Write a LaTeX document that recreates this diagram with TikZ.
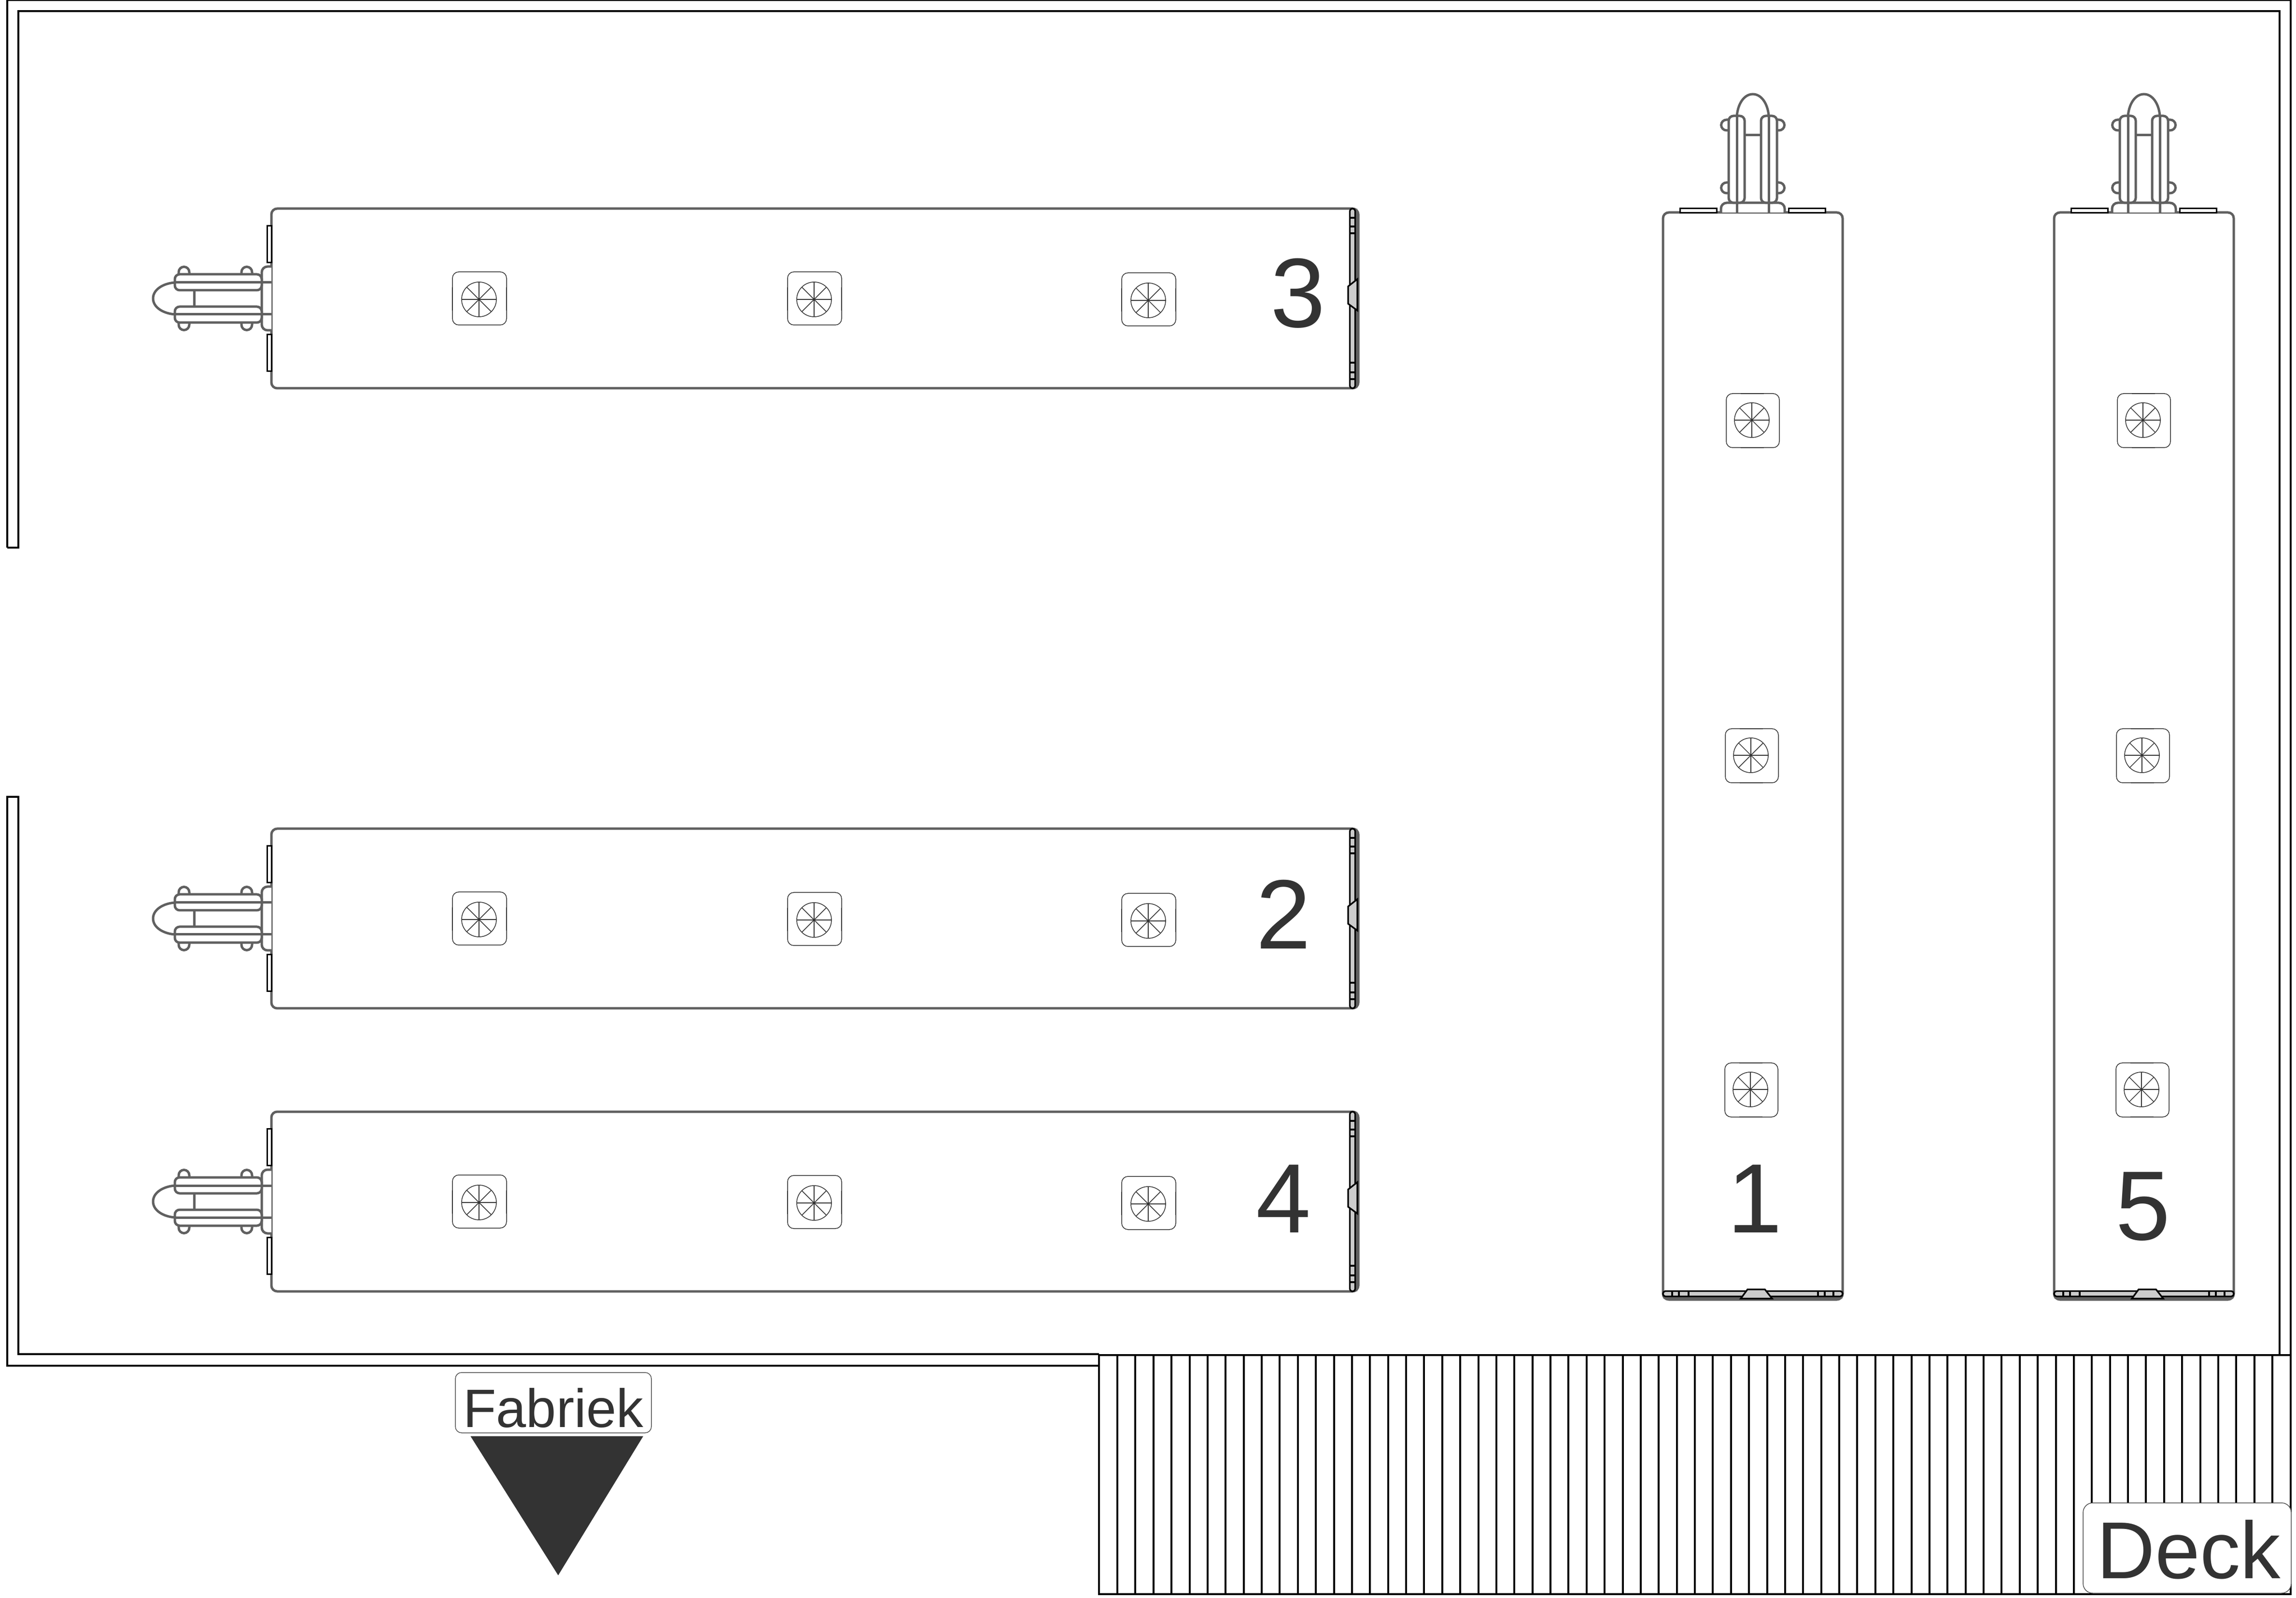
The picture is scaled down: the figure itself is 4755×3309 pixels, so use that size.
\documentclass[tikz,border=0pt]{standalone}
\usepackage{fontspec}
\setmainfont{Liberation Sans}
\definecolor{bodygray}{HTML}{606060}
\definecolor{doorgray}{HTML}{CCCCCC}
\definecolor{inkdark}{HTML}{333333}
\tikzset{
  wallline/.style={black,line width=0.4pt,line join=miter},
  bodyline/.style={draw=bodygray,line width=0.5pt,fill=white,rounded corners=1.2pt},
  hitchline/.style={draw=bodygray,line width=0.5pt},
  blackpart/.style={draw=black,line width=0.33pt,line join=miter},
  wheelline/.style={draw=inkdark,line width=0.15pt},
  bignum/.style={text=inkdark,inner sep=0pt,anchor=base,font=\fontsize{20.4pt}{20.4pt}\selectfont},
  labelbox/.style={draw=inkdark!85,line width=0.15pt,fill=white,rounded corners=1.3pt},
}
\newcommand{\wheelunit}[2]{%
  \begin{scope}[shift={(#1,#2)}]
    \draw[wheelline,fill=white,rounded corners=1.3pt] (-55,-55) rectangle (57,55);
    \draw[wheelline,line width=0.22pt] (-55,-23) -- (-55,25);
    \draw[wheelline,line width=0.22pt] (57,-23) -- (57,25);
    \draw[wheelline] (0,2) circle (36);
    \foreach \a in {0,45,...,315} {\draw[wheelline] (0,2) -- ++(\a:36);}
  \end{scope}}
\newcommand{\trailer}[3]{%
  % body
  \draw[bodyline] (0,-186) rectangle (2251,186);
  \fill[bodygray,rounded corners=1.2pt] (2238,-186) -- (2251,-186) -- (2251,186) -- (2238,186) -- cycle;
  % rear door strip
  \draw[blackpart,fill=doorgray,rounded corners=0.5pt] (2233.5,-186) rectangle (2244.5,186);
  \foreach \v in {-167,-149,-135,133,153,167} {\draw[blackpart] (2233.5,\v) -- (2244.5,\v);}
  \draw[blackpart,fill=doorgray] (2230,-25) -- (2249,-40) -- (2249,25) -- (2230,11) -- cycle;
  % hinged plates
  \draw[blackpart,fill=white] (-8.5,-150.5) rectangle (0.5,-74.5);
  \draw[blackpart,fill=white] (-8.5,74.5) rectangle (0.5,150.5);
  % hitch
  \draw[hitchline,rounded corners=1.2pt,fill=white] (0,-66) -- (-20,-66) -- (-20,66) -- (0,66);
  \foreach \x in {-181,-51} {
    \draw[hitchline,rounded corners=1.1pt,fill=white] (\x-11,-50) -- (\x-11,-65.5) -- (\x+11,-65.5) -- (\x+11,-50);
    \draw[hitchline,rounded corners=1.1pt,fill=white] (\x-11,50) -- (\x-11,65.5) -- (\x+11,65.5) -- (\x+11,50);
  }
  \draw[hitchline,fill=white,rounded corners=1pt] (-200,-50) rectangle (-20,-17);
  \draw[hitchline,fill=white,rounded corners=1pt] (-200,17) rectangle (-20,50);
  \draw[hitchline] (-160,-17) -- (-160,17);
  \draw[hitchline] (-200,-33) -- (0,-33);
  \draw[hitchline] (-200,33) -- (0,33);
  \draw[hitchline] (-200,-33) .. controls (-225,-31) and (-245,-18) .. (-245,0)
                   .. controls (-245,18) and (-225,31) .. (-200,33);
  % wheel units
  \wheelunit{430}{#1}
  \wheelunit{1124}{#2}
  \wheelunit{1816}{#3}
}
\begin{document}
\begin{tikzpicture}[x=0.1pt,y=-0.1pt]
  \useasboundingbox (0,0) rectangle (4755,3309);
  \fill[white] (0,0) rectangle (4755,3309);
  % building walls
  \draw[wallline] (15,1134) -- (15,0.5) -- (4744,0.5) -- (4744,2806);
  \draw[wallline] (15,1134) -- (38,1134) -- (38,23) -- (4721,23) -- (4721,2805);
  \draw[wallline] (2276,2804) -- (38,2804) -- (38,1650) -- (15,1650) -- (15,2828) -- (2276,2828);
  % deck
  \draw[wallline] (2276,2806) rectangle (4744,3301);
  \foreach \k in {0,...,64} {\draw[wallline] ({2314+37.375*\k},2806) -- ({2314+37.375*\k},3301);}
  % trailers
  \begin{scope}[shift={(562,618)}]\trailer{0}{0}{2}\end{scope}
  \begin{scope}[shift={(562,1902)}]\trailer{0}{1}{3}\end{scope}
  \begin{scope}[shift={(562,2488)}]\trailer{0}{1}{3}\end{scope}
  \begin{scope}[shift={(3630,440)},rotate=-90]\trailer{0}{2}{3}\end{scope}
  \begin{scope}[shift={(4440,440)},rotate=-90]\trailer{0}{2}{3}\end{scope}
  % numbers
  \node[bignum] (n3) at (2688,678) {3};
  \node[bignum] (n2) at (2658,1965) {2};
  \node[bignum] (n4) at (2658,2552) {4};
  \node[bignum] (n1) at (3634,2552) {1};
  \node[bignum] (n5) at (4438,2567) {5};
  % factory marker
  \draw[labelbox] (943,2842) rectangle (1349,2967);
  \node[text=inkdark,inner sep=0pt,anchor=base,font=\fontsize{11.2pt}{11.2pt}\selectfont] (fabriek) at (1146,2955) {Fabriek};
  \fill[inkdark] (974.5,2974) -- (1332,2974) -- (1156,3262) -- cycle;
  % deck label
  \draw[labelbox,rounded corners=2pt] (4314,3112) rectangle (4745,3299);
  \node[text=inkdark,inner sep=0pt,anchor=base,font=\fontsize{16.7pt}{16.7pt}\selectfont] (deck) at (4533,3268) {Deck};
\end{tikzpicture}
\end{document}
